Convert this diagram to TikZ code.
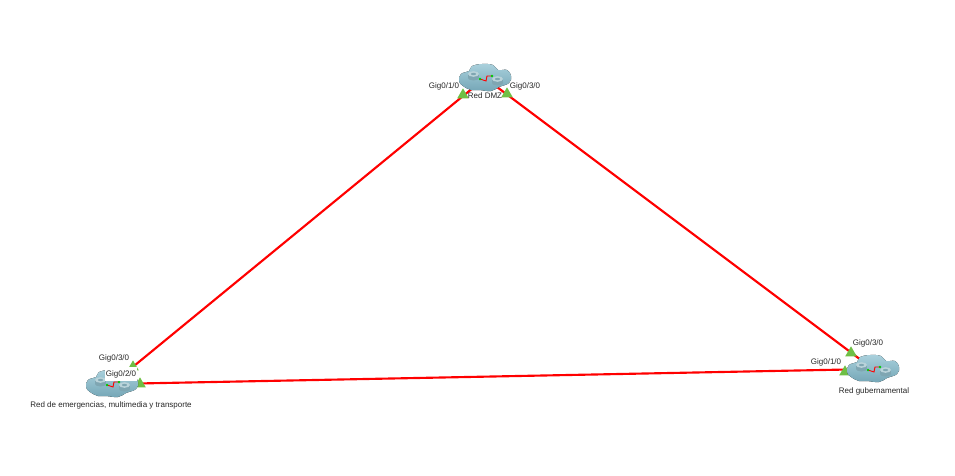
\documentclass[tikz,border=0pt]{standalone}
\usepackage{fontspec}
\setmainfont{Liberation Sans}
\usetikzlibrary{shapes.geometric}
\definecolor{linkred}{HTML}{FF0000}
\definecolor{portgreen}{HTML}{6FBF45}
\definecolor{cloudtop}{HTML}{A9D0DC}
\definecolor{cloudlow}{HTML}{74A6B6}
\definecolor{routerbody}{HTML}{7FA6B2}
\definecolor{routertop}{HTML}{BAD3DA}
\tikzset{
	anchorpt/.style={inner sep=0pt, minimum size=0pt},
	link/.style={draw=linkred, line width=1.6pt},
	port/.style={regular polygon, regular polygon sides=3, fill=portgreen, inner sep=0pt, minimum size=10pt},
	iflabel/.style={font=\fontsize{6}{7}\selectfont, text=black!85, inner sep=0.5pt},
	netlabel/.style={iflabel},
	pics/netcloud/.style={code={
		\fill[top color=cloudtop, bottom color=cloudlow] plot[smooth cycle, tension=0.7] coordinates
			{(-26,3) (-24,-4) (-16,-7) (-13,-12) (-3,-14) (8,-13) (13,-8) (22,-8) (26,-2) (24,5) (14,9) (6,13) (-6,12) (-14,12) (-22,8)};
		\draw[linkred, line width=0.7pt] (-5,1) -- (1,3) -- (2,-2) -- (7,-2);
		\fill[green!80!black] (-5,1) circle (1pt) (7,-2) circle (1pt);
		% routers
		\foreach \rx/\ry in {-11.5/-3, 12.5/2} {
			\fill[routerbody] (\rx-5.5,\ry-1) rectangle (\rx+5.5,\ry+3);
			\fill[routerbody] (\rx,\ry+3) ellipse (5.5 and 2.5);
			\fill[routertop] (\rx,\ry-1) ellipse (5.5 and 2.8);
			\fill[routerbody] (\rx,\ry-1) ellipse (2.5 and 1.2);
		}
	}},
}
\begin{document}
\begin{tikzpicture}[x=0.75pt, y=-0.75pt]
	\useasboundingbox (0,0) rectangle (955,475);
	% Nodes
	\node[anchorpt] (dmz) at (485,78) {};
	\node[anchorpt] (emerg) at (112,384) {};
	\node[anchorpt] (gob) at (873,369) {};

	% Arrows
	\draw[link] (dmz.center) -- (emerg.center);
	\draw[link] (dmz.center) -- (gob.center);
	\draw[link] (emerg.center) -- (gob.center);

	% Ports
	\node[port] (dmzA) at (463,95) {};
	\node[port] (dmzB) at (507,94) {};
	\node[port] (emergA) at (133,367) {};
	\node[port] (emergB) at (140,384) {};
	\node[port] (gobA) at (851,353) {};
	\node[port] (gobB) at (845,372) {};

	% Clouds
	\pic at (dmz) {netcloud};
	\pic at (emerg) {netcloud};
	\pic at (gob) {netcloud};

	% Labels
	\node[iflabel] (lblA) at (444,86) {Gig0/1/0};
	\node[iflabel] (lblB) at (525,86) {Gig0/3/0};
	\node[netlabel] (lblDmz) at (485,96) {Red DMZ};
	\node[iflabel] (lblC) at (114,358) {Gig0/3/0};
	\node[iflabel, fill=white, minimum height=10.5pt, minimum width=24pt] (lblD) at (121,374) {Gig0/2/0};
	\node[netlabel] (lblEmerg) at (111,405) {Red de emergencias, multimedia y transporte};
	\node[iflabel] (lblE) at (868,343) {Gig0/3/0};
	\node[iflabel] (lblF) at (826,362) {Gig0/1/0};
	\node[netlabel] (lblGob) at (874,391) {Red gubernamental};
\end{tikzpicture}
\end{document}
